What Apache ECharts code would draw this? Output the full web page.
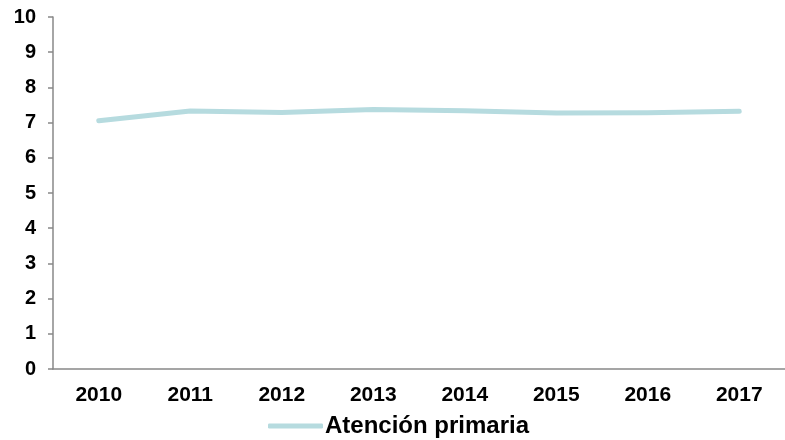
<!DOCTYPE html>
<html>
<head>
<meta charset="utf-8">
<script src="https://cdn.jsdelivr.net/npm/echarts@6/dist/echarts.min.js"></script>
<style>
  html, body { margin: 0; padding: 0; background: #fff; }
  #chart { width: 785px; height: 440px; }
</style>
</head>
<body>
<div id="chart"></div>
<script>
// datos
const years = ['2010', '2011', '2012', '2013', '2014', '2015', '2016', '2017'];
const atencionPrimaria = [7.05, 7.33, 7.29, 7.37, 7.34, 7.27, 7.28, 7.32];
const seriesName = 'Atención primaria';

const axisGray = '#888888';
const lineColor = '#b6dbdf';
const font = 'Liberation Sans, Arial, sans-serif';

let myChart = echarts.init(document.getElementById('chart'));

myChart.setOption({
  animation: false,
  textStyle: { fontFamily: font },
  grid: {
    left: 53,
    top: 17,
    width: 740,
    bottom: 71
  },
  legend: {
    data: [{ name: seriesName, icon: 'roundRect' }],
    left: 263,
    top: 409,
    itemWidth: 55,
    itemHeight: 5,
    itemGap: 5,
    itemStyle: { color: lineColor, borderWidth: 0 },
    lineStyle: { width: 0 },
    textStyle: {
      fontFamily: font,
      fontSize: 24,
      fontWeight: 'bold',
      color: '#000',
      padding: [0, 0, 0, -3]
    }
  },
  xAxis: {
    type: 'category',
    data: years,
    boundaryGap: true,
    axisLine: { lineStyle: { color: axisGray, width: 1.5 } },
    axisTick: { length: 5, lineStyle: { color: axisGray, width: 1.5 } },
    axisLabel: {
      margin: 16,
      fontSize: 21,
      fontWeight: 'bold',
      color: '#000'
    }
  },
  yAxis: {
    type: 'value',
    min: 0,
    max: 10,
    interval: 1,
    splitLine: { show: false },
    axisLine: { show: true, lineStyle: { color: axisGray, width: 1.5 } },
    axisTick: { show: true, length: 5, lineStyle: { color: axisGray, width: 1.5 } },
    axisLabel: {
      margin: 17,
      fontSize: 20,
      fontWeight: 'bold',
      color: '#000'
    }
  },
  series: [{
    name: seriesName,
    type: 'line',
    data: atencionPrimaria,
    symbol: 'none',
    lineStyle: { color: lineColor, width: 5, cap: 'round', join: 'round' },
    itemStyle: { color: lineColor }
  }]
});
</script>
</body>
</html>
